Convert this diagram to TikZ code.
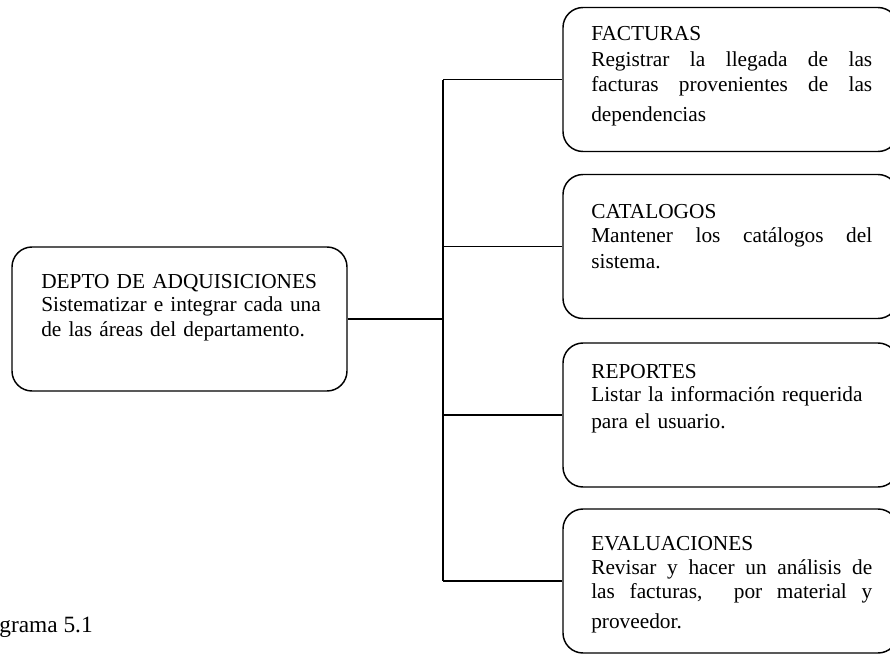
\documentclass[tikz,border=0pt]{standalone}
\usepackage{fontspec}
\setmainfont{Liberation Serif}
\usepackage{tikz}
\usetikzlibrary{positioning}
\newcommand{\jline}[1]{{\spaceskip=.3333em plus 1em\makebox[210.75pt][s]{#1}}}

\begin{document}
\begin{tikzpicture}[x=0.75pt,y=-0.75pt,
  box/.style={draw,line width=1.1pt,rounded corners=15pt,minimum width=251.25pt,minimum height=108pt},
  txt/.style={inner sep=0pt,align=left,text width=210.75pt,anchor=base west,font=\fontsize{16}{17.5}\selectfont},
  link/.style={line width=1.1pt}]
\useasboundingbox (0,0) rectangle (890,654);

% Boxes
\node[box] (depto) at (179.5,319) {};
\node[box] (fact) at (730.5,79.5) {};
\node[box] (cat) at (730.5,246.5) {};
\node[box] (rep) at (730.5,415) {};
\node[box] (eval) at (730.5,581) {};

% Texts
\begin{scope}
\clip (12,247) rectangle (320,391);
\node[txt] (deptotxt) at (41,288)
  {DEPTO DE ADQUISICIONES\\ Sistematizar e integrar cada una\\[1.5pt] de las áreas del departamento.};
\end{scope}
\node[txt] (facttxt) at (591,40.7)
  {FACTURAS\\[2pt] \jline{Registrar la llegada de las}\\[1pt] \jline{facturas provenientes de las}\\[5pt] dependencias};
\node[txt] (cattxt) at (591,218.3)
  {CATALOGOS\\[1pt] \jline{Mantener los catálogos del}\\[2pt] sistema.};
\node[txt] (reptxt) at (591,378)
  {REPORTES\\ Listar la información requerida\\[3pt] para el usuario.};
\node[txt] (evaltxt) at (591,550.7)
  {EVALUACIONES\\ \jline{Revisar y hacer un análisis de}\\[1pt] \jline{las facturas,~ por material y}\\[5pt] proveedor.};

% Connectors
\coordinate (jn) at (443,319);
\draw[link] (depto.east) -- (jn);
\draw[link] (jn |- fact.west) -- (jn |- eval.west);
\foreach \n in {fact,cat,rep,eval}
  \draw[link] (jn |- \n.west) -- (\n.west);

% Caption
\node[anchor=base east,inner sep=0pt,font=\fontsize{17.5}{19}\selectfont] (cap) at (93,632) {Diagrama 5.1};
\end{tikzpicture}
\end{document}
